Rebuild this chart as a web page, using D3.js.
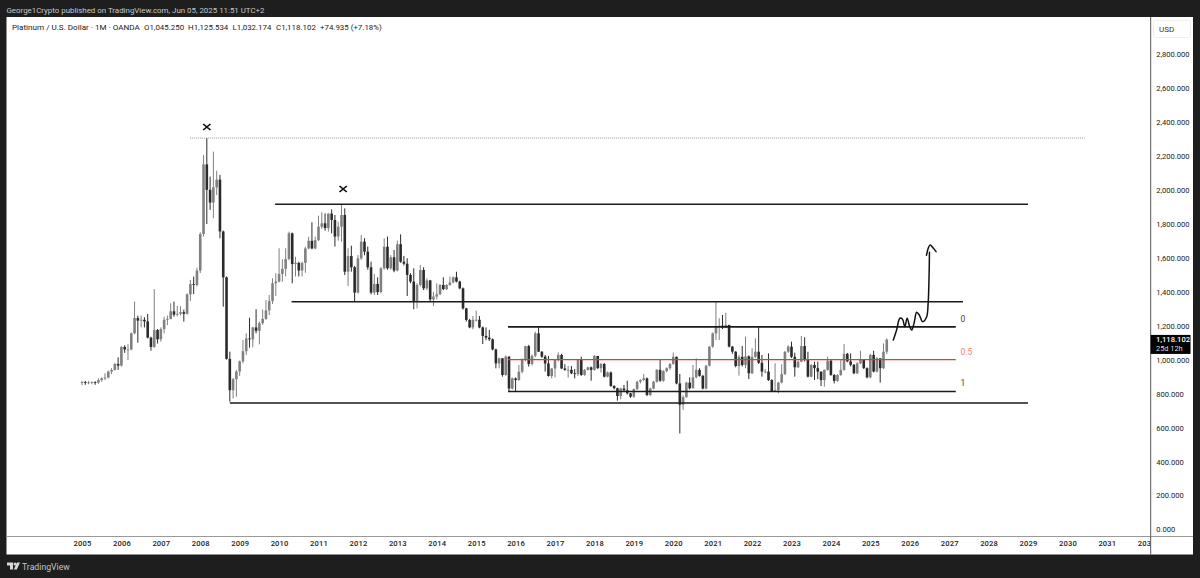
<!DOCTYPE html>
<html>
<head>
<meta charset="utf-8">
<style>
    html, body { margin: 0; padding: 0; background: #1e1e1e; }
    svg { display: block; }
    text { font-family: Roboto, "Noto Sans", sans-serif; }
</style>
<script src="https://cdn.jsdelivr.net/npm/d3@7"></script>
</head>
<body>
<svg id="chart" width="1200" height="578"></svg>
<script>
// monthly closes, one row per year, Jan 2005 - Jun 2025
var closes = [
    868, 865, 866, 868, 865, 880, 890, 895, 930, 940, 975, 965,
    1075, 1060, 1060, 1155, 1245, 1230, 1235, 1225, 1130, 1075, 1175, 1120,
    1180, 1235, 1240, 1285, 1265, 1270, 1280, 1270, 1385, 1445, 1440, 1525,
    1740, 2150, 2000, 1925, 2015, 2060, 1755, 1485, 1005, 820, 885, 930,
    990, 1050, 1125, 1120, 1190, 1170, 1215, 1240, 1290, 1345, 1450, 1460,
    1505, 1535, 1593, 1744, 1563, 1570, 1525, 1570, 1655, 1700, 1655, 1704,
    1783, 1803, 1775, 1860, 1823, 1725, 1783, 1852, 1518, 1610, 1544, 1395,
    1597, 1695, 1636, 1544, 1395, 1446, 1398, 1538, 1665, 1538, 1603, 1525,
    1680, 1577, 1565, 1499, 1460, 1342, 1440, 1528, 1420, 1467, 1355, 1372,
    1385, 1440, 1415, 1440, 1455, 1485, 1460, 1420, 1302, 1234, 1190, 1235,
    1235, 1190, 1140, 1130, 1120, 1060, 978, 1008, 910, 1018, 830, 890,
    880, 929, 998, 1080, 975, 1023, 1155, 1047, 1018, 978, 904, 948,
    998, 1028, 948, 940, 940, 920, 915, 998, 910, 940, 955, 940,
    1022, 950, 975, 900, 925, 845, 832, 786, 830, 820, 802, 782,
    827, 870, 880, 890, 792, 830, 870, 940, 876, 933, 950, 975,
    1017, 860, 735, 780, 865, 832, 896, 940, 905, 830, 965, 1077,
    1155, 1195, 1200, 1190, 1205, 1077, 1047, 963, 1017, 969, 1020, 920,
    1017, 1047, 982, 930, 930, 880, 815, 820, 865, 915, 1047, 1077,
    1017, 955, 988, 1080, 998, 900, 969, 950, 930, 880, 940, 994,
    910, 875, 910, 940, 1034, 990, 970, 920, 978, 998, 950, 896,
    1028, 930, 1008, 950, 1047, 1118.102
];

var highs = [
    875, 875, 875, 872, 873, 890, 895, 920, 935, 950, 980, 1014,
    1080, 1085, 1092, 1160, 1342, 1259, 1260, 1250, 1269, 1135, 1416, 1180,
    1190, 1253, 1260, 1332, 1342, 1316, 1315, 1295, 1390, 1470, 1489, 1542,
    1750, 2205, 2305, 2078, 2225, 2113, 2088, 1760, 1490, 1047, 892, 940,
    995, 1116, 1155, 1247, 1192, 1297, 1225, 1295, 1351, 1381, 1479, 1509,
    1656, 1591, 1656, 1754, 1748, 1606, 1577, 1577, 1665, 1724, 1809, 1724,
    1848, 1868, 1862, 1862, 1885, 1852, 1813, 1911, 1891, 1656, 1671, 1552,
    1616, 1734, 1715, 1666, 1577, 1505, 1485, 1544, 1715, 1725, 1616, 1646,
    1701, 1738, 1611, 1597, 1509, 1538, 1450, 1558, 1544, 1479, 1470, 1400,
    1450, 1445, 1485, 1445, 1489, 1490, 1518, 1465, 1425, 1305, 1240, 1257,
    1289, 1257, 1195, 1190, 1175, 1125, 1065, 1012, 1010, 1025, 1020, 895,
    895, 969, 1008, 1081, 1087, 1030, 1165, 1195, 1050, 1028, 1022, 950,
    1002, 1043, 1035, 973, 963, 963, 945, 1002, 1018, 945, 959, 960,
    1028, 1018, 980, 980, 930, 930, 850, 835, 835, 851, 877, 805,
    830, 877, 885, 916, 895, 835, 875, 945, 998, 938, 955, 980,
    1043, 1018, 916, 790, 870, 896, 969, 1008, 950, 910, 970, 1080,
    1160, 1342, 1244, 1263, 1277, 1204, 1080, 1050, 1028, 1081, 1136, 1025,
    1067, 1126, 1194, 1028, 945, 1037, 885, 979, 870, 973, 1050, 1085,
    1106, 1041, 995, 1140, 1132, 1047, 975, 988, 988, 930, 943, 1018,
    1000, 915, 915, 1002, 1092, 1040, 1037, 975, 985, 1053, 1000, 955,
    1035, 1053, 1015, 1008, 1096, 1125.534
];

var lows = [
    850, 852, 855, 855, 852, 858, 870, 880, 890, 915, 935, 940,
    960, 1040, 998, 1055, 1150, 1100, 1190, 1190, 1125, 1053, 1070, 1095,
    1106, 1155, 1204, 1238, 1253, 1255, 1260, 1224, 1265, 1346, 1387, 1430,
    1510, 1725, 1799, 1882, 1833, 1970, 1715, 1312, 1000, 753, 772, 782,
    904, 978, 1028, 1071, 1073, 1155, 1090, 1205, 1235, 1263, 1328, 1375,
    1455, 1459, 1490, 1585, 1450, 1490, 1490, 1490, 1512, 1650, 1650, 1650,
    1699, 1770, 1760, 1754, 1744, 1666, 1701, 1695, 1499, 1434, 1518, 1342,
    1390, 1587, 1615, 1530, 1385, 1381, 1381, 1390, 1530, 1530, 1530, 1515,
    1520, 1570, 1555, 1375, 1450, 1297, 1302, 1430, 1410, 1410, 1345, 1316,
    1355, 1380, 1410, 1410, 1435, 1450, 1455, 1415, 1295, 1225, 1185, 1179,
    1225, 1185, 1092, 1115, 1110, 1055, 949, 949, 900, 905, 815, 825,
    815, 875, 920, 990, 959, 965, 1015, 1045, 1010, 930, 900, 890,
    896, 990, 945, 935, 894, 915, 890, 905, 905, 905, 935, 876,
    935, 945, 924, 895, 895, 840, 825, 759, 767, 810, 795, 775,
    775, 820, 860, 875, 785, 785, 825, 865, 870, 870, 925, 940,
    970, 855, 566, 704, 775, 825, 830, 890, 900, 825, 825, 960,
    1070, 1116, 1116, 1180, 1185, 1072, 1035, 955, 906, 960, 950, 886,
    915, 1010, 975, 900, 920, 875, 811, 810, 802, 860, 910, 1040,
    1010, 900, 950, 985, 990, 895, 895, 880, 886, 845, 841, 935,
    905, 860, 870, 905, 935, 985, 960, 915, 915, 975, 945, 890,
    890, 925, 925, 865, 945, 1032.174
];

var yearLabels = d3.range(2005, 2033);
var priceTicks = d3.range(0, 2801, 200);

// drawn levels: price and the months (counted from Jan 2005) they span
var levelPrices = [1915, 1341, 1193, 813, 745];
var levelStarts = [58.8, 63.8, 129.7, 129.7, 45];
var levelEnds = [288, 268.2, 266, 266, 288];
var midPrice = 1000;
var peakPrice = 2305;
var peakSpan = [32.9, 305.3];
var fibLabels = ['0', '0.5', '1'];
var fibPrices = [1193, 1000, 813];

// hand drawn arrow
var arrowMonths = [247, 248, 249, 249.8, 250.5, 251.2, 252, 252.6, 253.3, 254.1, 254.9, 255.9, 257.1, 257.6, 257.9, 258];
var arrowPrices = [1116, 1175, 1244, 1238, 1194, 1244, 1194, 1175, 1214, 1279, 1263, 1224, 1250, 1332, 1509, 1632];
var headMonths = [257.1, 257.6, 258.2, 259.2, 260];
var headPrices = [1615, 1655, 1675, 1656, 1636];

var crossMonths = [38, 79.5];
var crossPrices = [2370, 2005];

var svg = d3.select('#chart');

// page frame and panes
var FRAME = { left: 6.5, top: 17, right: 1193, bottom: 554.5 };
var PANE_RIGHT = 1150.7, PANE_BOTTOM = 536.5;

svg.append('rect').attr('width', 1200).attr('height', 578).attr('fill', '#1e1e1e');
svg.append('rect')
    .attr('x', FRAME.left)
    .attr('y', FRAME.top)
    .attr('width', FRAME.right - FRAME.left)
    .attr('height', FRAME.bottom - FRAME.top)
    .attr('fill', '#fff');

var x = d3.scaleLinear().domain([0, 288]).range([82, 1028]);
var y = d3.scaleLinear().domain([0, 2800]).range([529.5, 54]);

svg.append('clipPath').attr('id', 'timeClip')
    .append('rect').attr('x', FRAME.left).attr('y', 0).attr('width', PANE_RIGHT - FRAME.left).attr('height', 18);

// time axis
var timeAxis = svg.append('g')
    .attr('clip-path', 'url(#timeClip)')
    .attr('transform', `translate(0,${PANE_BOTTOM})`)
    .call(d3.axisBottom(x)
        .tickValues(yearLabels.map(function (d) { return (d - 2005) * 12; }))
        .tickFormat(function (d) { return 2005 + d / 12; })
        .tickSize(0)
        .tickPadding(4.5));
timeAxis.select('.domain').remove();
timeAxis.selectAll('text')
    .attr('font-size', 7.6)
    .attr('font-family', 'Roboto, sans-serif')
    .attr('font-weight', 500)
    .attr('letter-spacing', 0.15)
    .attr('fill', '#222');

// price axis
var priceAxis = svg.append('g')
    .attr('transform', `translate(${PANE_RIGHT},0)`)
    .call(d3.axisRight(y)
        .tickValues(priceTicks)
        .tickFormat(d3.format(',.3f'))
        .tickSize(0)
        .tickPadding(5.5));
priceAxis.select('.domain').remove();
priceAxis.selectAll('text')
    .attr('font-size', 7.6)
    .attr('font-family', 'Roboto, sans-serif')
    .attr('fill', '#222');

svg.append('line')
    .attr('x1', FRAME.left).attr('x2', FRAME.right)
    .attr('y1', PANE_BOTTOM).attr('y2', PANE_BOTTOM)
    .attr('stroke', '#9a9a9a').attr('stroke-width', 1);
svg.append('line')
    .attr('x1', PANE_RIGHT).attr('x2', PANE_RIGHT)
    .attr('y1', FRAME.top).attr('y2', FRAME.bottom)
    .attr('stroke', '#555').attr('stroke-width', 1);

// candles
var candles = closes.map(function (c, i) {
    return {
        month: i,
        open: i === 0 ? 864 : closes[i - 1],
        close: c,
        high: highs[i],
        low: lows[i]
    };
});
var candleColor = function (d) { return d.close >= d.open ? '#808080' : '#2b2b2b'; };

var candle = svg.append('g').selectAll('g')
    .data(candles)
    .join('g');

candle.append('line')
    .attr('x1', function (d) { return x(d.month); })
    .attr('x2', function (d) { return x(d.month); })
    .attr('y1', function (d) { return y(d.high); })
    .attr('y2', function (d) { return y(d.low); })
    .attr('stroke', candleColor)
    .attr('stroke-width', 1);

candle.append('rect')
    .attr('x', function (d) { return x(d.month) - 1.3; })
    .attr('width', 2.6)
    .attr('y', function (d) { return y(Math.max(d.open, d.close)); })
    .attr('height', function (d) { return Math.max(0.8, Math.abs(y(d.open) - y(d.close))); })
    .attr('fill', candleColor);

// peak dotted line
svg.append('line')
    .attr('x1', x(peakSpan[0])).attr('x2', x(peakSpan[1]))
    .attr('y1', y(peakPrice)).attr('y2', y(peakPrice))
    .attr('stroke', '#8a8a8a')
    .attr('stroke-width', 0.9)
    .attr('stroke-dasharray', '1 1');

// black levels
svg.append('g').selectAll('line')
    .data(levelPrices)
    .join('line')
    .attr('x1', function (d, i) { return x(levelStarts[i]); })
    .attr('x2', function (d, i) { return x(levelEnds[i]); })
    .attr('y1', function (d) { return y(d); })
    .attr('y2', function (d) { return y(d); })
    .attr('stroke', '#1a1a1a')
    .attr('stroke-width', 1.6);

// fib middle line
svg.append('line')
    .attr('x1', x(129.7)).attr('x2', x(266))
    .attr('y1', y(midPrice)).attr('y2', y(midPrice))
    .attr('stroke', '#e53935')
    .attr('stroke-width', 1.2);

svg.append('g').selectAll('text')
    .data(fibLabels)
    .join('text')
    .attr('x', 960.5)
    .attr('y', function (d, i) { return y(fibPrices[i]) - 8; })
    .attr('dominant-baseline', 'central')
    .attr('font-size', 8.5)
    .attr('fill', function (d) { return d === '0.5' ? '#f47c7c' : '#444'; })
    .text(function (d) { return d; });

// arrow
var arrowLine = d3.line()
    .x(function (d) { return x(d[0]); })
    .y(function (d) { return y(d[1]); })
    .curve(d3.curveCatmullRom.alpha(0.5));

svg.append('path')
    .datum(arrowMonths.map(function (m, i) { return [m, arrowPrices[i]]; }))
    .attr('d', arrowLine)
    .attr('fill', 'none')
    .attr('stroke', '#111')
    .attr('stroke-width', 1.5)
    .attr('stroke-linecap', 'round');

svg.append('path')
    .datum(headMonths.map(function (m, i) { return [m, headPrices[i]]; }))
    .attr('d', arrowLine)
    .attr('fill', 'none')
    .attr('stroke', '#111')
    .attr('stroke-width', 1.5)
    .attr('stroke-linecap', 'round');

// x marks
svg.append('g').selectAll('path')
    .data(crossMonths)
    .join('path')
    .attr('transform', function (d, i) { return `translate(${x(d)},${y(crossPrices[i])}) scale(1.1,0.9)`; })
    .attr('d', d3.symbol().type(d3.symbolTimes).size(30))
    .attr('fill', 'none')
    .attr('stroke', '#111')
    .attr('stroke-width', 1.5);

// last price tag
var lastPrice = closes[closes.length - 1];
svg.append('rect')
    .attr('x', PANE_RIGHT)
    .attr('y', y(lastPrice) - 4.7)
    .attr('width', 39.8)
    .attr('height', 19)
    .attr('fill', '#000');
svg.append('text')
    .attr('x', 1156)
    .attr('y', y(lastPrice) + 2.5)
    .attr('font-size', 7.6)
    .attr('font-weight', 500)
    .attr('fill', '#fff')
    .text(d3.format(',.3f')(lastPrice));
svg.append('text')
    .attr('x', 1156)
    .attr('y', y(lastPrice) + 11)
    .attr('font-size', 7.4)
    .attr('fill', '#ddd')
    .text('25d 12h');

// currency box
svg.append('rect')
    .attr('x', 1153.5).attr('y', 20.5)
    .attr('width', 37).attr('height', 17)
    .attr('rx', 2)
    .attr('fill', '#fff')
    .attr('stroke', '#efefef');
svg.append('text')
    .attr('x', 1159).attr('y', 32)
    .attr('font-size', 8)
    .attr('fill', '#333')
    .text('USD');

// headers
svg.append('text')
    .attr('x', 6.5).attr('y', 12.5)
    .attr('font-size', 7.9)
    .attr('fill', '#c9c9c9')
    .text('George1Crypto published on TradingView.com, Jun 05, 2025 11:51 UTC+2');

var legendTexts = ['Platinum / U.S. Dollar · 1M · OANDA', 'O1,045.250', 'H1,125.534', 'L1,032.174', 'C1,118.102', '+74.935 (+7.18%)'];
var legendStarts = [12, 144, 188, 232.5, 276, 320];
svg.append('g').selectAll('text')
    .data(legendTexts)
    .join('text')
    .attr('x', function (d, i) { return legendStarts[i]; })
    .attr('y', 30)
    .attr('font-size', function (d, i) { return i === 0 ? 8.1 : 7.9; })
    .attr('fill', '#222')
    .text(function (d) { return d; });

// TradingView mark
var logo = svg.append('g').attr('fill', '#d8d8d8');
logo.append('path').attr('d', 'M7,562.5 H13 V569.5 H10 V565.5 H7 Z');
logo.append('circle').attr('cx', 15).attr('cy', 564).attr('r', 1.5);
logo.append('path').attr('d', 'M17,562.5 H20 L16.8,569.5 H13.8 Z');
svg.append('text')
    .attr('x', 22).attr('y', 569.5)
    .attr('font-size', 8.7)
    .attr('fill', '#c4c4c4')
    .text('TradingView');
</script>
</body>
</html>
